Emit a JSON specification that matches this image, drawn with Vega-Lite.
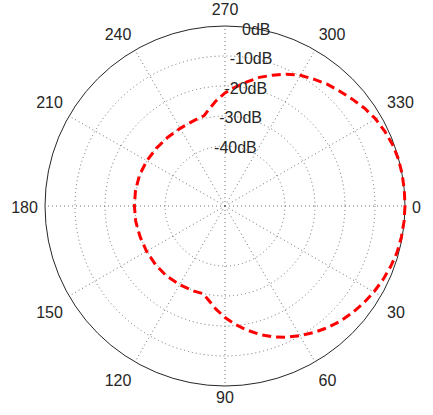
{
  "$schema": "https://vega.github.io/schema/vega-lite/v6.json",
  "width": 360,
  "height": 360,
  "autosize": "none",
  "padding": {"left": 45, "top": 26, "right": 28, "bottom": 29},
  "background": "white",
  "config": {"view": {"stroke": null}, "font": "Liberation Sans"},
  "datasets": {
    "pattern": [
      {"angle": 0, "db": 0}, {"angle": 5, "db": -0.1}, {"angle": 10, "db": -0.3}, {"angle": 15, "db": -0.6},
      {"angle": 20, "db": -1.2}, {"angle": 25, "db": -1.9}, {"angle": 30, "db": -2.7}, {"angle": 35, "db": -3.6},
      {"angle": 40, "db": -4.6}, {"angle": 45, "db": -5.7}, {"angle": 50, "db": -7.0}, {"angle": 55, "db": -8.5},
      {"angle": 60, "db": -10.1}, {"angle": 65, "db": -11.7}, {"angle": 70, "db": -13.6}, {"angle": 75, "db": -15.7},
      {"angle": 80, "db": -18.0}, {"angle": 85, "db": -20.4}, {"angle": 90, "db": -22.8}, {"angle": 95, "db": -25.5},
      {"angle": 100, "db": -28.2}, {"angle": 104, "db": -29.9}, {"angle": 110, "db": -29.8}, {"angle": 120, "db": -29.7},
      {"angle": 130, "db": -29.6}, {"angle": 140, "db": -29.7}, {"angle": 150, "db": -29.8}, {"angle": 160, "db": -29.9},
      {"angle": 170, "db": -29.8}, {"angle": 180, "db": -29.8}, {"angle": 190, "db": -29.7}, {"angle": 200, "db": -29.7},
      {"angle": 210, "db": -29.9}, {"angle": 220, "db": -30.1}, {"angle": 230, "db": -30.2}, {"angle": 240, "db": -30.1},
      {"angle": 250, "db": -29.7}, {"angle": 257, "db": -29.1}, {"angle": 260, "db": -27.6}, {"angle": 265, "db": -24.9},
      {"angle": 270, "db": -22.3}, {"angle": 275, "db": -20.2}, {"angle": 280, "db": -18.0}, {"angle": 285, "db": -15.6},
      {"angle": 290, "db": -13.6}, {"angle": 295, "db": -11.5}, {"angle": 300, "db": -9.7}, {"angle": 305, "db": -8.4},
      {"angle": 310, "db": -7.0}, {"angle": 315, "db": -5.9}, {"angle": 320, "db": -4.6}, {"angle": 325, "db": -3.2},
      {"angle": 330, "db": -2.0}, {"angle": 335, "db": -1.2}, {"angle": 340, "db": -0.5}, {"angle": 345, "db": -0.1},
      {"angle": 350, "db": 0}, {"angle": 355, "db": 0}, {"angle": 360, "db": 0}
    ],
    "rings": [{"db": -40}, {"db": -30}, {"db": -20}, {"db": -10}],
    "outer": [{"db": 0}],
    "spokes": [
      {"angle": 0}, {"angle": 30}, {"angle": 60}, {"angle": 90}, {"angle": 120}, {"angle": 150},
      {"angle": 180}, {"angle": 210}, {"angle": 240}, {"angle": 270}, {"angle": 300}, {"angle": 330}
    ],
    "angleLabels": [
      {"angle": 0, "label": "0"}, {"angle": 30, "label": "30"}, {"angle": 60, "label": "60"},
      {"angle": 90, "label": "90"}, {"angle": 120, "label": "120"}, {"angle": 150, "label": "150"},
      {"angle": 180, "label": "180"}, {"angle": 210, "label": "210"}, {"angle": 240, "label": "240"},
      {"angle": 270, "label": "270"}, {"angle": 300, "label": "300"}, {"angle": 330, "label": "330"}
    ],
    "dbLabels": [
      {"db": 0, "label": "0dB"}, {"db": -10, "label": "-10dB"}, {"db": -20, "label": "-20dB"},
      {"db": -30, "label": "-30dB"}, {"db": -40, "label": "-40dB"}
    ]
  },
  "layer": [
    {
      "data": {"name": "rings"},
      "transform": [{"calculate": "datum.db+60", "as": "rr"}, {"calculate": "0", "as": "zero"}],
      "mark": {"type": "point", "shape": "circle", "filled": false, "stroke": "#707070", "strokeWidth": 1, "strokeDash": [1, 3], "opacity": 1},
      "encoding": {
        "x": {"field": "zero", "type": "quantitative", "scale": {"domain": [-60, 60], "nice": false, "zero": false}, "axis": null},
        "y": {"field": "zero", "type": "quantitative", "scale": {"domain": [-60, 60], "nice": false, "zero": false}, "axis": null},
        "size": {"field": "rr", "type": "quantitative", "legend": null, "scale": {"type": "pow", "exponent": 2, "domain": [0, 60], "range": [0, 129600], "zero": true}}
      }
    },
    {
      "data": {"name": "spokes"},
      "transform": [
        {"calculate": "60*cos(datum.angle*PI/180)", "as": "sx"},
        {"calculate": "-60*sin(datum.angle*PI/180)", "as": "sy"},
        {"calculate": "0", "as": "zero"}
      ],
      "mark": {"type": "rule", "stroke": "#707070", "strokeWidth": 1, "strokeDash": [1, 3]},
      "encoding": {
        "x": {"field": "zero", "type": "quantitative"},
        "y": {"field": "zero", "type": "quantitative"},
        "x2": {"field": "sx"},
        "y2": {"field": "sy"}
      }
    },
    {
      "data": {"name": "outer"},
      "transform": [{"calculate": "datum.db+60", "as": "rr"}, {"calculate": "0", "as": "zero"}],
      "mark": {"type": "point", "shape": "circle", "filled": false, "stroke": "#262626", "strokeWidth": 1, "opacity": 1},
      "encoding": {
        "x": {"field": "zero", "type": "quantitative"},
        "y": {"field": "zero", "type": "quantitative"},
        "size": {"field": "rr", "type": "quantitative", "legend": null}
      }
    },
    {
      "data": {"name": "pattern"},
      "transform": [
        {"calculate": "(datum.db+60)*cos(datum.angle*PI/180)", "as": "px"},
        {"calculate": "-(datum.db+60)*sin(datum.angle*PI/180)", "as": "py"}
      ],
      "mark": {"type": "line", "stroke": "#ff0000", "strokeWidth": 3, "strokeDash": [9, 5]},
      "encoding": {
        "x": {"field": "px", "type": "quantitative"},
        "y": {"field": "py", "type": "quantitative"},
        "order": {"field": "angle", "type": "quantitative"}
      }
    },
    {
      "data": {"name": "dbLabels"},
      "transform": [
        {"calculate": "(datum.db+60)*cos(280*PI/180)", "as": "tx"},
        {"calculate": "-(datum.db+60)*sin(280*PI/180) - 1/3", "as": "ty"}
      ],
      "mark": {"type": "text", "align": "center", "baseline": "middle", "fontSize": 16, "color": "#262626"},
      "encoding": {
        "x": {"field": "tx", "type": "quantitative"},
        "y": {"field": "ty", "type": "quantitative"},
        "text": {"field": "label"}
      }
    },
    {
      "data": {"name": "angleLabels"},
      "transform": [
        {"calculate": "cos(datum.angle*PI/180)", "as": "c"},
        {"calculate": "sin(datum.angle*PI/180)", "as": "s"},
        {"calculate": "(187*datum.c + (abs(datum.c) > 0.1 ? (datum.c > 0 ? 1 : -1)*4.5*length(datum.label) : 0))/3", "as": "lx"},
        {"calculate": "-(187*datum.s + (datum.s > 0.1 ? (abs(datum.c) > 0.1 ? 12 : 3.7) : (datum.s < -0.1 ? -10.3 : 0.7)) + 1)/3", "as": "ly"}
      ],
      "mark": {"type": "text", "align": "center", "baseline": "middle", "fontSize": 16, "color": "#262626"},
      "encoding": {
        "x": {"field": "lx", "type": "quantitative"},
        "y": {"field": "ly", "type": "quantitative"},
        "text": {"field": "label"}
      }
    }
  ]
}
